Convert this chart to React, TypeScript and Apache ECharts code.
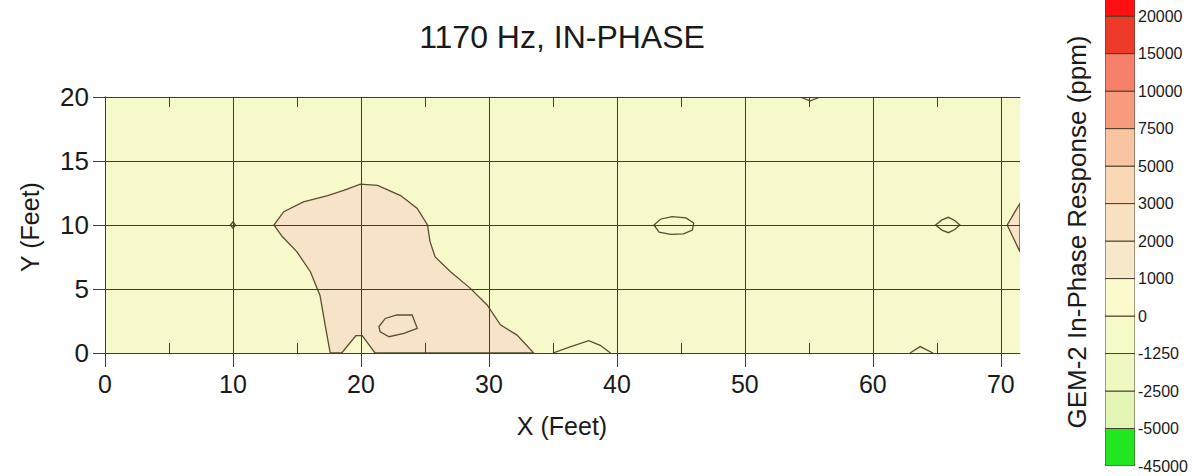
import { useEffect, useRef } from 'react';
import * as echarts from 'echarts';

// ---------- data (feet / ppm) ----------
const X_TICKS = [0, 10, 20, 30, 40, 50, 60, 70];
const X_MINOR_TICKS = [5, 15, 25, 35, 45, 55, 65];
const Y_TICKS = [0, 5, 10, 15, 20];
const COLORBAR_LEVELS = ['-45000', '-5000', '-2500', '-1250', '0', '1000', '2000', '3000', '5000', '7500', '10000', '15000', '20000'];

// contour outlines, [x ft, y ft]
const anomalyMain = [
  [17.6, 0], [17.2, 2.2], [16.8, 4.5], [16.05, 6.35], [15.0, 7.9], [13.85, 9.1], [13.2, 10.0],
  [13.97, 11.04], [15.5, 11.8], [17.4, 12.3], [18.65, 12.7], [19.96, 13.2], [21.3, 13.1],
  [23.1, 12.3], [24.4, 11.3], [25.2, 10.0], [25.4, 8.7], [25.8, 7.5], [27.0, 6.35], [28.55, 5.05],
  [29.86, 3.75], [30.9, 2.2], [32.2, 1.4], [33.5, 0], [21.1, 0], [20.1, 1.35], [19.6, 1.35], [18.5, 0],
];
const anomalyIsland = [
  [21.5, 1.66], [21.4, 2.05], [21.9, 2.7], [22.8, 2.97], [24.0, 2.97], [24.4, 1.93], [23.35, 1.54], [22.2, 1.27],
];
const anomalyRightEdge = [[71.5, 11.7], [70.5, 10.0], [71.5, 7.9]];
const spotX10 = [[9.8, 10], [10, 10.25], [10.2, 10], [10, 9.75]];
const spotX44 = [[42.9, 10.0], [43.4, 10.45], [44.3, 10.65], [45.4, 10.55], [46.0, 10.15], [45.9, 9.6], [45.2, 9.3], [44.2, 9.27], [43.3, 9.45]];
const spotX66 = [[64.9, 10.0], [65.4, 10.4], [65.9, 10.6], [66.4, 10.35], [66.8, 10.0], [66.4, 9.65], [65.9, 9.4], [65.4, 9.6]];
const bumpTop55 = [[54.3, 20], [55.1, 19.7], [55.9, 20]];
const bumpBottom37 = [[35.0, 0], [36.4, 0.5], [37.8, 0.97], [38.7, 0.6], [39.5, 0]];
const bumpBottom63 = [[62.9, 0], [63.7, 0.5], [64.7, 0]];

// ---------- styles ----------
const FONT = '"Liberation Sans", Arial, sans-serif';
const TEXT = '#1a1a1a';
const GRID_LINE = '#3f3d30';
const CONTOUR = '#5b4d33';
const BAND_COLORS = [
  '#22e622', '#e2f5b4', '#eff8c0', '#f6f9c8', '#fafacd', '#f7e8cb',
  '#f9e2c2', '#f9d8b6', '#f8c4a2', '#f89a7c', '#f7806a', '#ee3a28', '#ff1010',
];
const PLOT_BG = '#f7f9cb';
const PEACH = '#f6e3c8';

function contourSeries(pts: number[][], fill: string | null, closed: boolean) {
  return {
    type: 'custom',
    xAxisIndex: 0,
    yAxisIndex: 0,
    clip: true,
    silent: true,
    z: 2,
    data: pts,
    renderItem: (params: any, api: any) => {
      if (params.dataIndex !== 0) return null;
      const points = pts.map((p) => api.coord(p));
      if (closed) {
        return {
          type: 'polygon',
          shape: { points },
          style: { fill: fill || 'none', stroke: CONTOUR, lineWidth: 1.3 },
        };
      }
      return {
        type: 'polyline',
        shape: { points },
        style: { fill: 'none', stroke: CONTOUR, lineWidth: 1.3 },
      };
    },
  };
}

export default function App() {
  const ref = useRef<HTMLDivElement>(null);
  useEffect(() => {
    if (!ref.current) return;
    const chart = echarts.init(ref.current, null, { renderer: 'svg' });
    const option: any = {
      animation: false,
      backgroundColor: '#ffffff',
      textStyle: { fontFamily: FONT },
      grid: [
        { left: 105, top: 97, width: 915, height: 256, show: true, backgroundColor: PLOT_BG, borderWidth: 0 },
        { left: 1105, top: 0, width: 30, height: 466, show: false },
      ],
      xAxis: [
        {
          gridIndex: 0, type: 'value', min: 0, max: 71.5, interval: 10, position: 'bottom', z: 5,
          axisLine: { show: true, lineStyle: { color: GRID_LINE, width: 1 } },
          axisTick: { show: true, inside: false, length: 14, customValues: X_TICKS, lineStyle: { color: GRID_LINE } },
          axisLabel: { show: true, customValues: X_TICKS, fontSize: 25, color: TEXT, margin: 18, fontFamily: FONT },
          splitLine: { show: true, lineStyle: { color: GRID_LINE, width: 1 } },
        },
        {
          gridIndex: 0, type: 'value', min: 0, max: 71.5, interval: 5, position: 'bottom', z: 5,
          axisLine: { show: false },
          axisTick: { show: true, inside: true, length: 10, customValues: X_MINOR_TICKS, lineStyle: { color: GRID_LINE } },
          axisLabel: { show: false },
          splitLine: { show: false },
        },
        {
          gridIndex: 0, type: 'value', min: 0, max: 71.5, interval: 5, position: 'top', z: 5,
          axisLine: { show: true, lineStyle: { color: GRID_LINE, width: 1 } },
          axisTick: { show: true, inside: true, length: 10, customValues: X_MINOR_TICKS, lineStyle: { color: GRID_LINE } },
          axisLabel: { show: false },
          splitLine: { show: false },
        },
        {
          gridIndex: 1, type: 'value', min: 0, max: 1, show: false,
        },
      ],
      yAxis: [
        {
          gridIndex: 0, type: 'value', min: 0, max: 20, interval: 5, position: 'left', z: 5,
          axisLine: { show: true, lineStyle: { color: GRID_LINE, width: 1 } },
          axisTick: { show: true, inside: false, length: 12, customValues: Y_TICKS, lineStyle: { color: GRID_LINE } },
          axisLabel: { show: true, customValues: Y_TICKS, fontSize: 26, color: TEXT, margin: 16, fontFamily: FONT },
          splitLine: { show: true, lineStyle: { color: GRID_LINE, width: 1 } },
        },
        {
          gridIndex: 0, type: 'value', min: 0, max: 20, interval: 5, position: 'right', z: 5,
          axisLine: { show: true, lineStyle: { color: GRID_LINE, width: 1 } },
          axisTick: { show: false },
          axisLabel: { show: false },
          splitLine: { show: false },
        },
        {
          gridIndex: 1, type: 'value', min: 0, max: 12.43, interval: 1, position: 'right',
          axisLine: { show: false },
          axisTick: { show: false },
          axisLabel: {
            show: true,
            customValues: COLORBAR_LEVELS.map((_, i) => i),
            formatter: (v: number) => COLORBAR_LEVELS[Math.round(v)] ?? '',
            fontSize: 16, color: TEXT, margin: 3, fontFamily: FONT,
          },
          splitLine: { show: false },
        },
      ],
      series: [
        contourSeries(anomalyMain, PEACH, true),
        contourSeries(anomalyIsland, PEACH, true),
        contourSeries(anomalyRightEdge, PEACH, true),
        contourSeries(spotX10, null, true),
        contourSeries(spotX44, null, true),
        contourSeries(spotX66, null, true),
        contourSeries(bumpTop55, null, false),
        contourSeries(bumpBottom37, null, false),
        contourSeries(bumpBottom63, null, false),
        {
          type: 'custom',
          xAxisIndex: 3,
          yAxisIndex: 2,
          clip: true,
          silent: true,
          data: COLORBAR_LEVELS.map((_, i) => [0, i]),
          renderItem: (params: any, api: any) => {
            const i = api.value(1);
            const p0 = api.coord([0, i]);
            const p1 = api.coord([1, i + 1]);
            return {
              type: 'rect',
              shape: { x: p0[0], y: p1[1], width: p1[0] - p0[0], height: p0[1] - p1[1] },
              style: { fill: BAND_COLORS[params.dataIndex], stroke: '#4a4030', lineWidth: 1 },
            };
          },
        },
      ],
      graphic: [
        {
          type: 'text', x: 562, y: 37,
          style: { text: '1170 Hz, IN-PHASE', font: `32px ${FONT}`, fill: TEXT, align: 'center', verticalAlign: 'middle', textAlign: 'center', textVerticalAlign: 'middle' },
        },
        {
          type: 'text', x: 562, y: 426,
          style: { text: 'X (Feet)', font: `25px ${FONT}`, fill: TEXT, align: 'center', verticalAlign: 'middle', textAlign: 'center', textVerticalAlign: 'middle' },
        },
        {
          type: 'text', x: 30, y: 227, rotation: Math.PI / 2,
          style: { text: 'Y (Feet)', font: `25px ${FONT}`, fill: TEXT, align: 'center', verticalAlign: 'middle', textAlign: 'center', textVerticalAlign: 'middle' },
        },
        {
          type: 'text', x: 1077, y: 232, rotation: Math.PI / 2,
          style: { text: 'GEM-2 In-Phase Response (ppm)', font: `26px ${FONT}`, fill: TEXT, align: 'center', verticalAlign: 'middle', textAlign: 'center', textVerticalAlign: 'middle' },
        },
      ],
    };
    chart.setOption(option);
    return () => chart.dispose();
  }, []);
  return <div ref={ref} style={{ position: 'fixed', left: 0, top: 0, width: 1192, height: 476 }} />;
}
